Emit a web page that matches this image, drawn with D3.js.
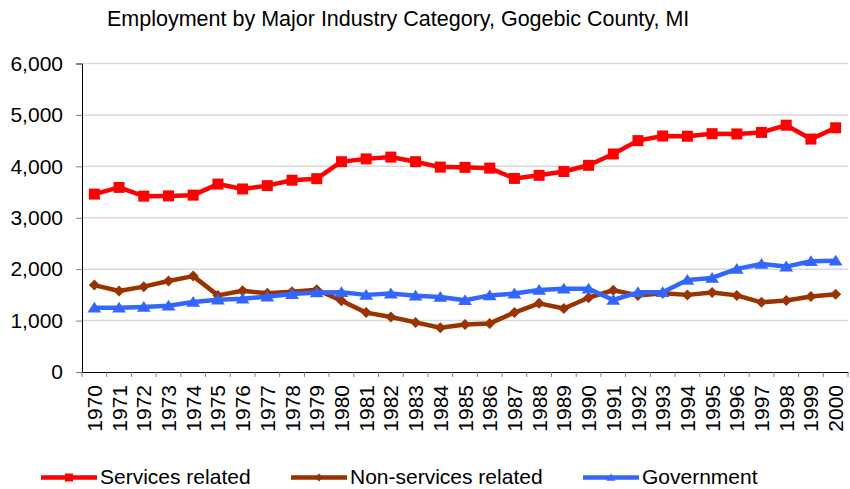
<!DOCTYPE html>
<html>
<head>
<meta charset="utf-8">
<script src="https://cdn.jsdelivr.net/npm/d3@7"></script>
<style>
  body { margin: 0; background: #fff; }
  text { font-family: "Liberation Sans", Arial, sans-serif; fill: #000; }
</style>
</head>
<body>
<div id="chart"></div>
<script>
var years = d3.range(1970, 2001).map(String);
var services = [3460, 3590, 3420, 3425, 3440, 3655, 3560, 3625, 3730, 3760,
                4090, 4145, 4180, 4090, 3985, 3980, 3965, 3765, 3825, 3900,
                4020, 4240, 4500, 4590, 4585, 4635, 4630, 4660, 4800, 4530, 4750];
var nonServices = [1690, 1575, 1660, 1770, 1865, 1490, 1580, 1530, 1560, 1600,
                   1385, 1155, 1070, 965, 860, 925, 945, 1155, 1335, 1235,
                   1445, 1590, 1490, 1530, 1500, 1545, 1490, 1355, 1390, 1470, 1510];
var government = [1250, 1250, 1265, 1290, 1360, 1405, 1425, 1465, 1515, 1545,
                  1550, 1500, 1525, 1485, 1460, 1395, 1490, 1525, 1595, 1620,
                  1620, 1400, 1550, 1550, 1790, 1830, 2005, 2100, 2050, 2155, 2165];
var yTicks = [0, 1000, 2000, 3000, 4000, 5000, 6000];

var series = [
  {name: "Services related", values: services, color: "#ff0000", marker: "square"},
  {name: "Non-services related", values: nonServices, color: "#993300", marker: "diamond"},
  {name: "Government", values: government, color: "#3366ff", marker: "triangle"}
];

var width = 850, height = 489;
var margin = {top: 63.5, right: 2, bottom: 117, left: 82};

var svg = d3.select("#chart").append("svg")
    .attr("width", width)
    .attr("height", height);

var x = d3.scaleBand()
    .domain(years)
    .range([margin.left, width - margin.right])
    .padding(0);

var y = d3.scaleLinear()
    .domain([0, 6000])
    .range([height - margin.bottom, margin.top]);

// title
svg.append("text")
    .attr("x", 107)
    .attr("y", 26)
    .style("font-size", "21.5px")
    .text("Employment by Major Industry Category, Gogebic County, MI");

// gridlines
svg.append("g")
  .selectAll("line")
  .data(yTicks.slice(1))
  .enter().append("line")
    .attr("x1", margin.left)
    .attr("x2", width - margin.right)
    .attr("y1", function(d) { return y(d); })
    .attr("y2", function(d) { return y(d); })
    .attr("stroke", "#d9d9d9")
    .attr("stroke-width", 1.5);

// y axis
var yAxis = svg.append("g")
    .attr("transform", "translate(" + margin.left + ",0)")
    .call(d3.axisLeft(y).tickValues(yTicks).tickSize(6).tickPadding(13)
      .tickFormat(d3.format(",")));
yAxis.select(".domain").attr("stroke", "#000");
yAxis.selectAll(".tick line").attr("stroke", "#808080");
yAxis.selectAll("text")
    .style("font-size", "21px")
    .attr("fill", "#000");

// x axis
var xAxis = svg.append("g")
    .attr("transform", "translate(0," + y(0) + ")")
    .call(d3.axisBottom(x).tickSize(0).tickSizeOuter(0));
xAxis.select(".domain").attr("stroke", "#000");
xAxis.selectAll("text")
    .style("font-size", "21px")
    .attr("fill", "#000")
    .attr("text-anchor", "end")
    .attr("transform", "rotate(-90)")
    .attr("x", -13)
    .attr("y", 0)
    .attr("dy", "0.36em");

// category boundary ticks
var bounds = d3.range(years.length + 1).map(function(i) {
  return x.range()[0] + i * x.step();
});
svg.append("g")
  .selectAll("line")
  .data(bounds)
  .enter().append("line")
    .attr("x1", function(d) { return d; })
    .attr("x2", function(d) { return d; })
    .attr("y1", y(0))
    .attr("y2", y(0) + 5)
    .attr("stroke", "#808080");

function markerPath(type, s) {
  if (type === "square") {
    return "M" + (-s) + "," + (-s) + "H" + s + "V" + s + "H" + (-s) + "Z";
  } else if (type === "diamond") {
    return "M0," + (-s) + "L" + s + ",0L0," + s + "L" + (-s) + ",0Z";
  } else {
    return "M0," + (-s) + "L" + (s * 1.15) + "," + (s * 0.8) + "L" + (-s * 1.15) + "," + (s * 0.8) + "Z";
  }
}
var markerSize = {square: 5.5, diamond: 5.5, triangle: 6};

var line = d3.line()
    .x(function(d, i) { return x(years[i]) + x.bandwidth() / 2; })
    .y(function(d) { return y(d); });

series.forEach(function(s) {
  var g = svg.append("g");
  g.append("path")
      .datum(s.values)
      .attr("d", line)
      .attr("fill", "none")
      .attr("stroke", s.color)
      .attr("stroke-width", 4.5)
      .attr("stroke-linejoin", "round");
  g.selectAll("path.marker")
      .data(s.values)
      .enter().append("path")
      .attr("class", "marker")
      .attr("d", markerPath(s.marker, markerSize[s.marker]))
      .attr("transform", function(d, i) {
        return "translate(" + (x(years[i]) + x.bandwidth() / 2) + "," + y(d) + ")";
      })
      .attr("fill", s.color);
});

// legend
var legendX = [41, 291, 583];
var legend = svg.append("g");
series.forEach(function(s, i) {
  var lg = legend.append("g")
      .attr("transform", "translate(" + legendX[i] + ",477.5)");
  lg.append("line")
      .attr("x1", 0).attr("x2", 56)
      .attr("y1", 0).attr("y2", 0)
      .attr("stroke", s.color)
      .attr("stroke-width", 4.5);
  lg.append("path")
      .attr("d", markerPath(s.marker, 4))
      .attr("transform", "translate(28,0)")
      .attr("fill", s.color);
  lg.append("text")
      .attr("x", 59)
      .attr("y", 6.5)
      .style("font-size", "21px")
      .text(s.name);
});
</script>
</body>
</html>
